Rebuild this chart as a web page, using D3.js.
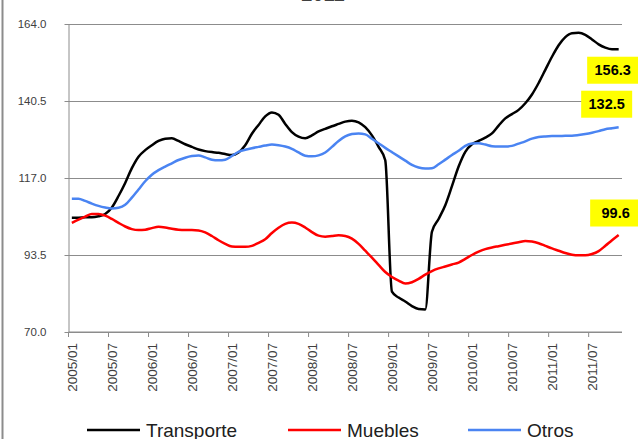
<!DOCTYPE html>
<html lang="es">
	<head>
		<meta charset="utf-8">
		<title>Transporte, Muebles, Otros</title>
		<script type="text/javascript" src="https://cdn.jsdelivr.net/npm/d3@7/dist/d3.min.js"></script>
		<style type="text/css">
			body{
				margin: 0;
				background: white;
			}
			text{
				font-family: "Liberation Sans", Arial, sans-serif;
			}
			.grid line{
				stroke: #8c8c8c;
				stroke-width: 1;
			}
		</style>
	</head>
	<body>
		<div class="chart"></div>
		<script type="text/javascript">

			// monthly series, 2005/01 .. 2011/11
			var transporte = [
				104.9,104.9,105.0,105.0,105.3,106.0,108.0,111.5,115.5,120.0,123.5,125.5,
				127.0,128.3,129.0,129.1,128.3,127.3,126.5,125.7,125.2,124.9,124.7,124.3,
				124.0,124.8,127.0,130.5,133.2,135.8,137.0,136.3,133.5,131.0,129.6,129.1,
				130.0,131.2,132.0,132.8,133.5,134.2,134.5,134.0,132.5,130.0,126.5,122.4,
				82.3,80.5,79.3,77.9,77.0,76.9,100.6,104.5,108.7,114.5,120.5,125.0,
				127.3,128.3,129.3,130.6,133.0,135.2,136.5,137.8,139.8,142.5,146.0,150.0,
				154.0,157.5,160.0,161.2,161.3,160.7,159.3,157.8,156.8,156.3,156.3
			];
			var muebles = [
				103.3,104.3,105.2,106.0,106.0,105.5,104.5,103.3,102.2,101.4,101.1,101.2,
				101.7,102.1,101.9,101.5,101.2,101.1,101.1,101.0,100.4,99.3,98.0,96.9,
				96.1,96.0,96.0,96.3,97.2,98.3,100.2,101.8,103.0,103.4,103.0,101.9,
				100.5,99.4,99.1,99.3,99.5,99.3,98.5,96.9,94.8,92.7,90.5,88.3,
				86.8,85.7,84.8,85.2,86.2,87.5,88.6,89.4,90.0,90.6,91.2,92.3,
				93.5,94.5,95.3,95.8,96.2,96.6,97.0,97.4,97.8,97.6,97.1,96.3,
				95.5,94.8,94.1,93.6,93.4,93.4,93.8,94.7,96.3,98.0,99.6
			];
			var otros = [
				110.7,110.7,110.0,109.2,108.5,108.0,107.7,107.9,108.8,111.0,113.5,116.0,
				118.0,119.4,120.5,121.5,122.5,123.2,123.7,123.9,123.3,122.6,122.4,122.6,
				123.7,125.0,125.6,126.1,126.5,126.9,127.2,127.0,126.6,125.9,124.8,123.8,
				123.6,123.9,124.8,126.5,128.3,129.7,130.4,130.6,130.3,129.0,127.6,126.2,
				124.9,123.6,122.3,121.0,120.2,119.9,120.0,121.2,122.6,124.0,125.3,126.8,
				127.5,127.6,127.2,126.7,126.6,126.6,126.8,127.5,128.2,129.0,129.5,129.7,
				129.8,129.8,129.9,129.9,130.1,130.4,130.8,131.3,131.9,132.2,132.5
			];

			var xTickLabels = ["2005/01","2005/07","2006/01","2006/07","2007/01","2007/07","2008/01",
				"2008/07","2009/01","2009/07","2010/01","2010/07","2011/01","2011/07"];
			var yTicks = [70.0, 93.5, 117.0, 140.5, 164.0];
			var seriesNames = ["Transporte", "Muebles", "Otros"];
			var seriesColors = ["#000000", "#ff0000", "#4a84f2"];
			var lastLabels = ["156.3", "99.6", "132.5"];

			var w = 638;
			var h = 439;
			var nCat = transporte.length;

			var svg = d3.select("div.chart")
						.append("svg")
						.attr("width", w)
						.attr("height", h);

			// chart border on the left
			svg.append("line")
				.attr("x1", 2.5).attr("x2", 2.5)
				.attr("y1", 0).attr("y2", h)
				.attr("stroke", "#8c8c8c")
				.attr("stroke-width", 2);

			// title, mostly cut off at the top
			svg.append("text")
				.attr("x", 323)
				.attr("y", 1)
				.attr("text-anchor", "middle")
				.attr("font-size", "20px")
				.attr("font-weight", "bold")
				.attr("fill", "#404040")
				.text("2011");

			var xScale = d3.scaleLinear()
						.domain([0, nCat])
						.range([68.5, 622]);

			var yScale = d3.scaleLinear()
						.domain([70, 164])
						.range([332, 24]);

			// horizontal gridlines + y axis
			var yAxis = d3.axisLeft(yScale)
						.tickValues(yTicks)
						.tickSize(-(xScale.range()[1] - xScale.range()[0]))
						.tickFormat(d3.format(".1f"));

			var gy = svg.append("g")
				.attr("class", "grid")
				.attr("transform", "translate(" + xScale(0) + ",0)")
				.call(yAxis);
			gy.select(".domain").attr("stroke", "#8c8c8c");
			gy.selectAll(".tick line").attr("x1", -4);
			gy.selectAll(".tick text")
				.attr("x", -22)
				.attr("font-size", "11.5px")
				.attr("fill", "#404040")
				.attr("font-family", "Liberation Sans, Arial, sans-serif");

			// x axis: ticks between categories every 6 months
			var tickIdx = xTickLabels.map((d, i) => i * 6);
			var gx = svg.append("g").attr("class", "grid");
			gx.append("line")
				.attr("x1", xScale(0)).attr("x2", xScale(nCat))
				.attr("y1", yScale(70)).attr("y2", yScale(70));
			gx.selectAll("line.tk")
				.data(tickIdx)
				.enter()
				.append("line")
				.attr("class", "tk")
				.attr("x1", d => xScale(d)).attr("x2", d => xScale(d))
				.attr("y1", yScale(70)).attr("y2", yScale(70) + 5);
			gx.selectAll("text")
				.data(xTickLabels)
				.enter()
				.append("text")
				.attr("transform", (d, i) => "translate(" + xScale(tickIdx[i] + 0.5) + "," + (yScale(70) + 11) + ") rotate(-90)")
				.attr("text-anchor", "end")
				.attr("dy", "0.35em")
				.attr("font-size", "13.5px")
				.attr("fill", "#404040")
				.text(d => d);

			// lines
			var series = [transporte, muebles, otros];
			var line = d3.line()
						.x((d, i) => xScale(i + 0.5))
						.y(d => yScale(d))
						.curve(d3.curveMonotoneX);

			svg.selectAll("path.s")
				.data(series)
				.enter()
				.append("path")
				.attr("class", "s")
				.attr("d", line)
				.attr("fill", "none")
				.attr("stroke", (d, i) => seriesColors[i])
				.attr("stroke-width", 2.5)
				.attr("stroke-linejoin", "round");

			// yellow labels at the last point
			var labelOff = [[-6, 21], [-3, -22], [-12, -23]];
			series.forEach(function(s, i){
				var cx = xScale(nCat - 0.5) + labelOff[i][0];
				var cy = yScale(s[s.length - 1]) + labelOff[i][1];
				var g = svg.append("g");
				g.append("rect")
					.attr("x", cx - 25.5)
					.attr("y", cy - 13.5)
					.attr("width", 51)
					.attr("height", 27)
					.attr("fill", "#ffff00");
				g.append("text")
					.attr("x", cx)
					.attr("y", cy)
					.attr("dy", "0.36em")
					.attr("text-anchor", "middle")
					.attr("font-size", "14.5px")
					.attr("font-weight", "bold")
					.attr("fill", "#000")
					.text(lastLabels[i]);
			});

			// legend
			var legX = [87, 288, 468];
			var leg = svg.selectAll("g.leg")
				.data(seriesNames)
				.enter()
				.append("g")
				.attr("class", "leg")
				.attr("transform", (d, i) => "translate(" + legX[i] + ",430)");
			leg.append("line")
				.attr("x1", 0).attr("x2", 53)
				.attr("y1", 0).attr("y2", 0)
				.attr("stroke", (d, i) => seriesColors[i])
				.attr("stroke-width", 2.5);
			leg.append("text")
				.attr("x", 59)
				.attr("y", 7)
				.attr("font-size", "19px")
				.attr("fill", "#202020")
				.text(d => d);

		</script>
	</body>
</html>
